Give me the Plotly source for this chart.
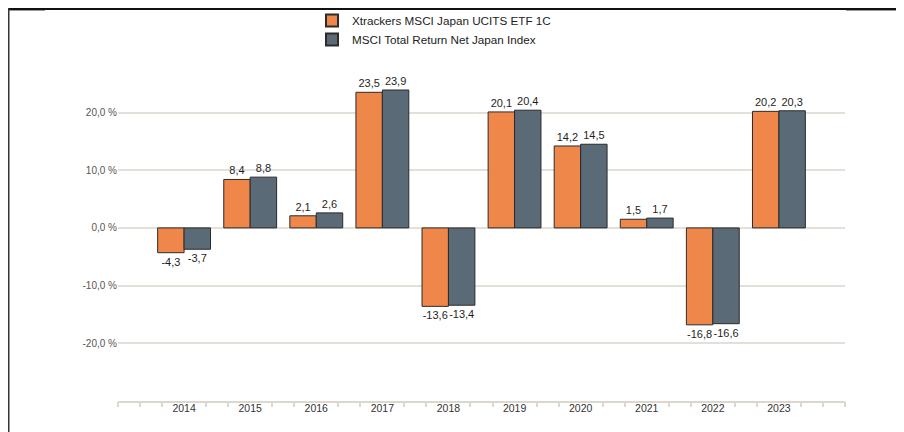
import plotly.graph_objects as go

years = ["2014", "2015", "2016", "2017", "2018", "2019", "2020", "2021", "2022", "2023"]
etf_values = [-4.3, 8.4, 2.1, 23.5, -13.6, 20.1, 14.2, 1.5, -16.8, 20.2]
index_values = [-3.7, 8.8, 2.6, 23.9, -13.4, 20.4, 14.5, 1.7, -16.6, 20.3]
series_names = ["Xtrackers MSCI Japan UCITS ETF 1C", "MSCI Total Return Net Japan Index"]
y_ticks = [-20, -10, 0, 10, 20]
y_tick_labels = ["-20,0 %", "-10,0 %", "0,0 %", "10,0 %", "20,0 %"]

ORANGE = "#ef864a"
SLATE = "#5a6a76"
FONT = "Liberation Sans, Arial, sans-serif"


def fmt(v):
    return f"{v:.1f}".replace(".", ",")


xpos = list(range(len(years)))

fig = go.Figure()
for name, vals, col in [(series_names[0], etf_values, ORANGE), (series_names[1], index_values, SLATE)]:
    fig.add_trace(go.Bar(
        x=xpos, y=vals, name=name,
        marker=dict(color=col, line=dict(color="#2b2b2b", width=1)),
        text=[fmt(v) for v in vals], textposition="outside",
        textfont=dict(family=FONT, size=11, color="#1e1e1e"),
        cliponaxis=False, hoverinfo="skip",
    ))

# minor tick marks (thirds of a category, not at the category centres)
minor = []
for i in range(-3, 31):
    if i % 3 != 0 or i in (-3, 30):
        minor.append(i / 3)
fig.add_trace(go.Scatter(x=[-1, 10], y=[None, None], xaxis="x2", showlegend=False,
                         hoverinfo="skip", mode="lines"))

ML, MR, MT, MB = 110, 67, 58, 39
W_PLOT = 904 - ML - MR
H_PLOT = 432 - MT - MB
def px_x(p):
    return (p - ML) / W_PLOT
def px_y(p):
    return (432 - MB - p) / H_PLOT

fig.update_layout(
    width=904, height=432,
    margin=dict(l=ML, r=MR, t=MT, b=MB, autoexpand=False),
    paper_bgcolor="white", plot_bgcolor="white",
    barmode="group", bargap=0.2, bargroupgap=0.0,
    uniformtext=dict(minsize=11, mode="show"),
    font=dict(family=FONT, color="#333333"),
    showlegend=True,
    legend=dict(
        orientation="v",
        x=px_x(304), y=px_y(-2), xanchor="left", yanchor="top",
        font=dict(family=FONT, size=11.7, color="#222222"),
        itemsizing="constant", tracegroupgap=2, bgcolor="rgba(0,0,0,0)",
    ),
    xaxis=dict(
        range=[-1, 10], tickmode="array", tickvals=xpos, ticktext=years,
        ticks="", showgrid=False, zeroline=False, tickangle=0,
        showline=True, linecolor="#dcd7cf", linewidth=2,
        ticklabelstandoff=-4,
        tickfont=dict(family=FONT, size=10.5, color="#333333"),
    ),
    xaxis2=dict(
        range=[-1, 10], overlaying="x", side="bottom", anchor="y",
        tickmode="array", tickvals=minor, ticks="outside", ticklen=5,
        tickwidth=2, tickcolor="#dcd7cf", showticklabels=False,
        showgrid=False, zeroline=False, showline=False,
    ),
    yaxis=dict(
        range=[-30, 28.06], tickmode="array", tickvals=y_ticks, ticktext=y_tick_labels,
        showgrid=True, gridcolor="#e3e0da", gridwidth=1.5,
        zeroline=True, zerolinecolor="#e3e0da", zerolinewidth=1.5,
        ticks="", showline=False,
        tickfont=dict(family=FONT, size=10, color="#555555"),
    ),
)

# frame lines
fig.add_shape(type="line", xref="paper", yref="paper",
              x0=px_x(0), x1=px_x(905), y0=px_y(1), y1=px_y(1),
              line=dict(color="#111111", width=2))
fig.add_shape(type="line", xref="paper", yref="paper",
              x0=px_x(0), x1=px_x(37), y0=px_y(2.5), y1=px_y(2.5),
              line=dict(color="#9a9a9a", width=1))
fig.add_shape(type="line", xref="paper", yref="paper",
              x0=px_x(838), x1=px_x(905), y0=px_y(2.5), y1=px_y(2.5),
              line=dict(color="#9a9a9a", width=1))
fig.add_shape(type="line", xref="paper", yref="paper",
              x0=px_x(0.5), x1=px_x(0.5), y0=px_y(0), y1=px_y(433),
              line=dict(color="#333333", width=2))

fig.write_html("out.html")
